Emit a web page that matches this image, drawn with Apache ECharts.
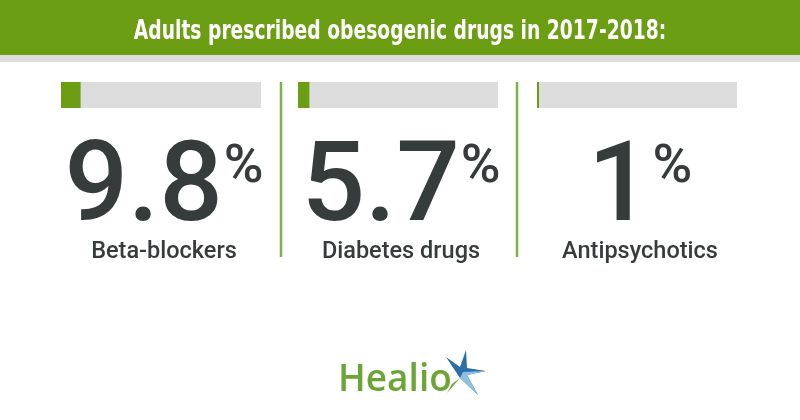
<!DOCTYPE html>
<html>
<head>
<meta charset="utf-8">
<script src="https://cdn.jsdelivr.net/npm/echarts@6/dist/echarts.min.js"></script>
<style>
html,body{margin:0;padding:0;background:#fff;}
#chart{width:800px;height:420px;}
</style>
</head>
<body>
<div id="chart"></div>
<script>
var titleText = 'Adults prescribed obesogenic drugs in 2017-2018:';
var categories = ['Beta-blockers', 'Diabetes drugs', 'Antipsychotics'];
var values = [9.8, 5.7, 1];
var valueLabels = ['9.8', '5.7', '1'];
var axisMax = 100;

var chart = echarts.init(document.getElementById('chart'), null, {renderer: 'canvas'});

var gridLefts = [61, 298, 537];
var gridWidth = 200;
var green = '#6b9e12';
var dark = '#363b3c';

var grids = [], xAxes = [], yAxes = [], series = [], graphics = [];

categories.forEach(function (cat, i) {
  grids.push({left: gridLefts[i], top: 82, width: gridWidth, height: 26, containLabel: false});
  xAxes.push({type: 'value', gridIndex: i, min: 0, max: axisMax, show: false});
  yAxes.push({type: 'category', gridIndex: i, data: [cat], show: false});
  series.push({
    type: 'bar', xAxisIndex: i, yAxisIndex: i, data: [values[i]],
    barWidth: 26, showBackground: true,
    backgroundStyle: {color: '#dcdcdc'},
    itemStyle: {color: green},
    silent: true, animation: false
  });
  var cx = gridLefts[i] + gridWidth / 2 + 3;
  graphics.push({
    type: 'text', x: cx, y: 192,
    style: {
      text: '{n|' + valueLabels[i] + '}{p|%}',
      align: 'center', verticalAlign: 'middle',
      rich: {
        n: {fontFamily: 'Roboto', fontWeight: 500, fontSize: 112, fill: dark, color: dark},
        p: {fontFamily: 'Roboto', fontWeight: 500, fontSize: 54, fill: dark, color: dark, verticalAlign: 'top', padding: [5, 0, 0, 1]}
      }
    }
  });
  graphics.push({
    type: 'text', x: cx, y: 252,
    style: {text: cat, font: '500 23.5px Roboto', fill: dark, align: 'center', verticalAlign: 'middle'}
  });
});

// header band
graphics.unshift(
  {type: 'rect', shape: {x: 0, y: 0, width: 800, height: 55}, style: {fill: green}, z: -1},
  {type: 'rect', shape: {x: 0, y: 55, width: 800, height: 7}, style: {fill: '#dddddd'}, z: -1},
  {type: 'text', x: 400, y: 32, scaleX: 0.8, style: {text: titleText, font: 'bold 26px "DejaVu Sans Condensed", "Liberation Sans Narrow", sans-serif', fill: '#ffffff', align: 'center', verticalAlign: 'middle'}}
);
// separators
[281, 517].forEach(function (x) {
  graphics.push({type: 'line', shape: {x1: x, y1: 82, x2: x, y2: 257}, style: {stroke: '#7cb342', lineWidth: 2.5}});
});
// logo
graphics.push({type: 'text', x: 338, y: 380, style: {text: 'Healio', font: '600 37px "Open Sans", sans-serif', fill: '#6aa535', align: 'left', verticalAlign: 'middle'}});
graphics.push({type: 'polygon', shape: {points: [[446, 357], [460, 367], [466, 350], [467, 368], [486, 371], [467, 375], [478, 395], [460, 378]]}, style: {fill: '#2b6ea8'}});
graphics.push({type: 'polygon', shape: {points: [[463, 372], [486, 371], [467, 375], [478, 395], [460, 378]]}, style: {fill: '#8cc1e4'}});
graphics.push({type: 'polygon', shape: {points: [[460, 378], [447, 393], [452, 384]]}, style: {fill: '#6aa535'}});

chart.setOption({
  animation: false,
  grid: grids, xAxis: xAxes, yAxis: yAxes, series: series,
  graphic: graphics
});
</script>
</body>
</html>
